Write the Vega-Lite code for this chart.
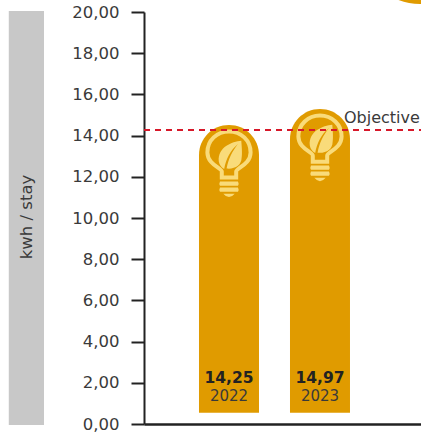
{"$schema":"https://vega.github.io/schema/vega-lite/v6.json","width":277,"height":412,"autosize":{"type":"none"},"padding":{"left":144,"top":12,"right":0,"bottom":9},"background":"white","config":{"view":{"stroke":null},"font":"DejaVu Sans"},
"datasets":{"bars":[{"year":2022,"label":"2022","value":"14,25","top":14.51,"base":0.55,"bulb":13.155},{"year":2023,"label":"2023","value":"14,97","top":15.29,"base":0.55,"bulb":13.93}]},
"encoding":{},
"layer":[
{"data":{"values":[{"x":2019.58,"x2":2019.967,"y":-0.05,"y2":20.05}]},"mark":{"type":"rect","color":"#c8c8c8"},"encoding":{"x":{"field":"x","type":"quantitative","scale":{"domain":[2021.066,2024.11],"padding":0},"axis":{"title":null,"labels":false,"ticks":false,"grid":false,"domain":true,"domainColor":"#222222","domainWidth":2.5}},"x2":{"field":"x2"},"y":{"field":"y","type":"quantitative","scale":{"domain":[0,20]},"axis":{"title":null,"values":[0,2,4,6,8,10,12,14,16,18,20],"labelExpr":"replace(format(datum.value,'.2f'),'.',',')","labelFont":"DejaVu Sans","labelFontSize":16.5,"labelColor":"#3a3a3a","labelPadding":12,"tickSize":13,"tickWidth":2,"tickColor":"#222222","domainColor":"#222222","domainWidth":2,"grid":false}},"y2":{"field":"y2"}}},
{"data":{"values":[{"x":2019.775,"y":10.05,"t":"kwh / stay"}]},"mark":{"type":"text","angle":270,"fontSize":16.5,"color":"#3a3a3a","align":"center","baseline":"middle"},"encoding":{"x":{"field":"x","type":"quantitative","scale":{"domain":[2021.066,2024.11],"padding":0}},"y":{"field":"y","type":"quantitative","scale":{"domain":[0,20]}},"text":{"field":"t"}}},
{"data":{"values":[{"x":2024.1,"y":23.3}]},"mark":{"type":"point","shape":"circle","filled":true,"opacity":1,"color":"#E09B00","size":14400},"encoding":{"x":{"field":"x","type":"quantitative","scale":{"domain":[2021.066,2024.11],"padding":0}},"y":{"field":"y","type":"quantitative","scale":{"domain":[0,20]}}}},
{"data":{"name":"bars"},"mark":{"type":"bar","orient":"vertical","width":60,"color":"#E09B00","cornerRadiusTopLeft":30,"cornerRadiusTopRight":30},"encoding":{"x":{"field":"year","type":"quantitative","scale":{"domain":[2021.066,2024.11],"padding":0}},"y":{"field":"top","type":"quantitative","scale":{"domain":[0,20]}},"y2":{"field":"base"}}},
{"data":{"name":"bars"},"mark":{"type":"point","filled":false,"opacity":1,"stroke":"#F9DB7A","strokeWidth":4,"size":3600,"shape":"M-0.24,0.82 L-0.24,0.62 C-0.24,0.5 -0.72,0.38 -0.72,-0.02 C-0.72,-0.42 -0.4,-0.72 0,-0.72 C0.4,-0.72 0.72,-0.42 0.72,-0.02 C0.72,0.38 0.24,0.5 0.24,0.62 L0.24,0.82 Z"},"encoding":{"x":{"field":"year","type":"quantitative","scale":{"domain":[2021.066,2024.11],"padding":0}},"y":{"field":"bulb","type":"quantitative","scale":{"domain":[0,20]}}}},
{"data":{"name":"bars"},"mark":{"type":"point","filled":true,"opacity":1,"color":"#F9DB7A","size":3600,"shape":"M.41,-.41 C.1,-.38 -.38,-.2 -.34,.28 C-.32,.4 -.25,.48 -.16,.53 C-.1,.2 .05,-.1 .3,-.3 C.1,-.05 -.02,.2 -.08,.52 C.2,.55 .42,.4 .42,.17 C.45,0 .42,-.25 .41,-.41 Z M-.3,.95 L.3,.95 Q.34,1.02 .3,1.09 L-.3,1.09 Q-.34,1.02 -.3,.95 Z M-.3,1.15 L.3,1.15 Q.34,1.22 .3,1.29 L-.3,1.29 Q-.34,1.22 -.3,1.15 Z M-.19,1.36 L.19,1.36 Q.1,1.47 0,1.47 Q-.1,1.47 -.19,1.36 Z"},"encoding":{"x":{"field":"year","type":"quantitative","scale":{"domain":[2021.066,2024.11],"padding":0}},"y":{"field":"bulb","type":"quantitative","scale":{"domain":[0,20]}}}},
{"data":{"values":[{"y":14.27,"x":2021.066,"x2":2024.11}]},"mark":{"type":"rule","color":"#D7182A","strokeWidth":2,"strokeDash":[6,5]},"encoding":{"x":{"field":"x","type":"quantitative","scale":{"domain":[2021.066,2024.11],"padding":0}},"x2":{"field":"x2"},"y":{"field":"y","type":"quantitative","scale":{"domain":[0,20]}}}},
{"data":{"values":[{"y":14.61,"x":2023.264,"t":"Objective"}]},"mark":{"type":"text","align":"left","baseline":"alphabetic","fontSize":16,"color":"#3a3a3a"},"encoding":{"x":{"field":"x","type":"quantitative","scale":{"domain":[2021.066,2024.11],"padding":0}},"y":{"field":"y","type":"quantitative","scale":{"domain":[0,20]}},"text":{"field":"t"}}},
{"data":{"name":"bars"},"mark":{"type":"text","fontWeight":"bold","fontSize":15.5,"color":"#222222","align":"center","baseline":"alphabetic"},"encoding":{"x":{"field":"year","type":"quantitative","scale":{"domain":[2021.066,2024.11],"padding":0}},"y":{"datum":1.99,"scale":{"domain":[0,20]}},"text":{"field":"value"}}},
{"data":{"name":"bars"},"mark":{"type":"text","fontSize":15,"color":"#3a3a3a","align":"center","baseline":"alphabetic"},"encoding":{"x":{"field":"year","type":"quantitative","scale":{"domain":[2021.066,2024.11],"padding":0}},"y":{"datum":1.12,"scale":{"domain":[0,20]}},"text":{"field":"label"}}}
]}
